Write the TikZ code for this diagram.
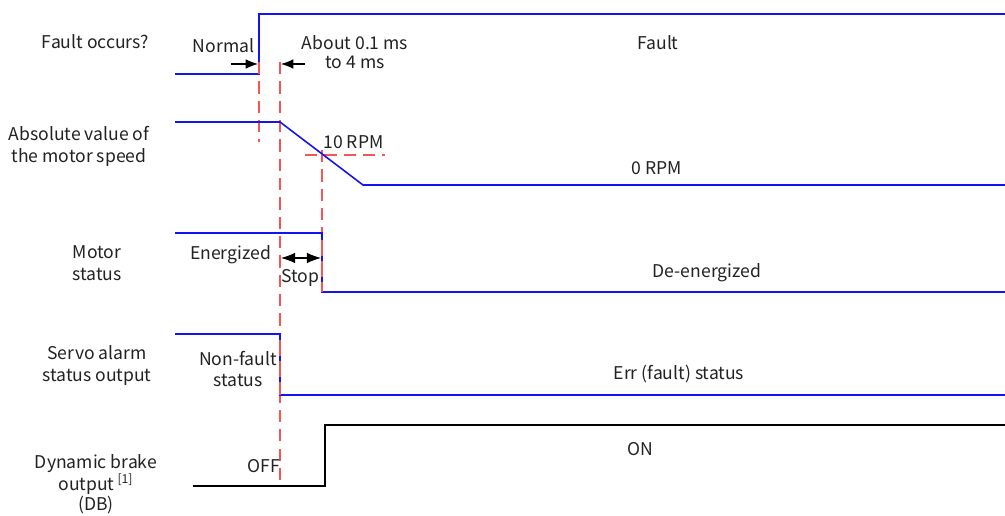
\documentclass[tikz,border=0pt]{standalone}
\usepackage{fontspec}
\setmainfont{Noto Sans CJK SC}
\usetikzlibrary{arrows.meta}
\definecolor{sigblue}{RGB}{20,20,240}
\definecolor{markred}{RGB}{245,85,85}
\definecolor{txtgray}{RGB}{34,34,34}
\begin{document}
\begin{tikzpicture}[x=0.02cm, y=-0.02cm, font=\fontsize{10}{12.5}\selectfont, text=txtgray]
            \tikzstyle{signal}=[sigblue, line width=0.9pt]
            \tikzstyle{dbsignal}=[black, line width=0.9pt]
            \tikzstyle{marker}=[markred, line width=0.8pt, dash pattern=on 7pt off 4pt]
            \tikzstyle{note arrow}=[black, line width=0.6pt, -{Latex[length=7pt,width=5.5pt]}]
            \tikzstyle{row label}=[align=center, inner sep=0pt]
            \useasboundingbox (0,0) rectangle (1005,516);

            % 时间点
            \coordinate (tf) at (259,0);
            \coordinate (ts) at (280,0);
            \coordinate (tr) at (322,0);

            % 标记线 (红色虚线)
            \draw[marker] (tf |- 0,62) -- (tf |- 0,142);
            \draw[marker] (ts |- 0,62) -- (ts |- 0,486);
            \draw[marker] (tr |- 0,150) -- (tr |- 0,292);
            \draw[marker] (305,155) -- (385,155);

            % 信号
            \draw[signal] (175,74) -- (259,74) -- (259,14) -- (1005,14);
            \draw[signal] (175,122) -- (280,122) -- (363,185) -- (1005,185);
            \draw[signal] (175,233) -- (322,233) -- (322,292) -- (1005,292);
            \draw[signal] (175,334) -- (280,334) -- (280,395) -- (1005,395);
            \draw[dbsignal] (193,486) -- (325,486) -- (325,425) -- (1005,425);

            % 信号上重叠的红线
            \draw[marker] (tf |- 0,62) -- (tf |- 0,74);
            \draw[marker, dash pattern=on 9pt off 3pt] (tr |- 0,240) -- (tr |- 0,292);
            \draw[marker, dash pattern=on 9pt off 3pt] (ts |- 0,340) -- (ts |- 0,395);

            % 行标签
            \node[row label] (lfault) at (95.5,42) {Fault occurs?};
            \node[row label] (lspeed) at (79,146) {Absolute value of\\the motor speed};
            \node[row label] (lmotor) at (97,263) {Motor\\status};
            \node[row label] (lalarm) at (97,366) {Servo alarm\\status output};
            \node[row label, font=\fontsize{10}{11.5}\selectfont] (ldb) at (96,484)
                {Dynamic brake\\output\,\textsuperscript{\fontsize{7}{8}\selectfont[1]}\\(DB)};

            % 状态文字
            \node[row label] (normal) at (223.5,46) {Normal};
            \node[row label, font=\fontsize{10}{10.5}\selectfont] (delay) at (355,52) {About 0.1 ms\\to 4 ms};
            \node[row label] (fault) at (658,43) {Fault};
            \node[row label] (rpm10) at (353.5,142) {10 RPM};
            \node[row label] (rpm0) at (657,168) {0 RPM};
            \node[row label] (energized) at (230.5,255) {Energized};
            \node[row label] (stop) at (300,278) {Stop};
            \node[row label] (deenergized) at (707,273) {De-energized};
            \node[row label] (nonfault) at (238,369) {Non-fault\\status};
            \node[row label] (err) at (679,374) {Err (fault) status};
            \node[row label] (off) at (263.5,466) {OFF};
            \node[row label] (on) at (640,449) {ON};

            % 箭头
            \coordinate (na) at (231,64);
            \coordinate (nb) at (258,64);
            \coordinate (da) at (305,64);
            \coordinate (db) at (281,64);
            \coordinate (sa) at (281,258);
            \coordinate (sb) at (321,258);
            \draw[note arrow] (na) -- (nb);
            \draw[note arrow] (da) -- (db);
            \draw[note arrow, {Latex[length=8pt,width=6pt]}-{Latex[length=8pt,width=6pt]}] (sa) -- (sb);
        \end{tikzpicture}
\end{document}
